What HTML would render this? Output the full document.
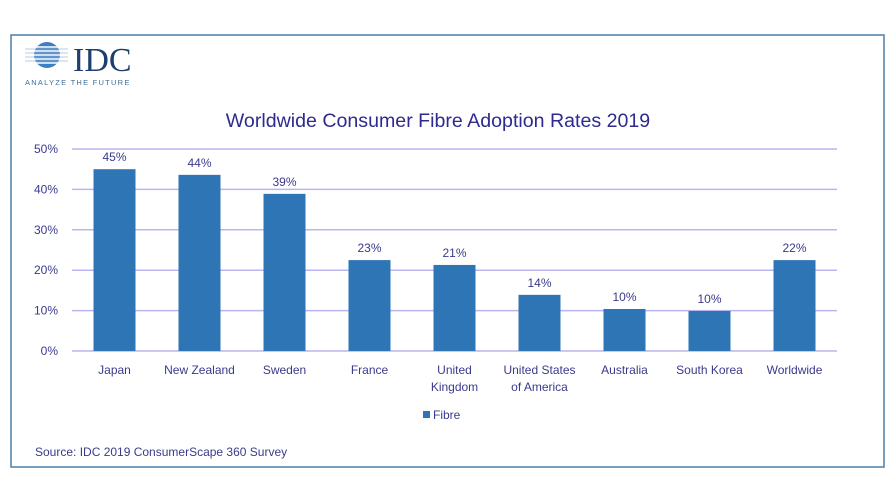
<!DOCTYPE html>
<html><head><meta charset="utf-8"><style>
html,body{margin:0;padding:0;background:#fff;}
svg{display:block;font-family:"Liberation Sans",sans-serif;}
</style></head><body>
<svg id="chart" width="896" height="504" viewBox="0 0 896 504">
<rect x="11" y="35" width="873" height="432" fill="#fff" stroke="#4a7fa8" stroke-width="1.5"/>
<g>
  <circle cx="47" cy="55" r="13" fill="#3d7fc0"/>
  <g stroke="#fff" stroke-width="1.6">
    <line x1="30" y1="47" x2="66" y2="47"/><line x1="30" y1="51" x2="66" y2="51"/><line x1="30" y1="55" x2="66" y2="55"/><line x1="30" y1="59" x2="66" y2="59"/><line x1="30" y1="63" x2="66" y2="63"/>
  </g>
  <g stroke="#9fbddc" stroke-width="0.8">
    <line x1="25" y1="49" x2="68" y2="49"/><line x1="25" y1="53" x2="68" y2="53"/><line x1="25" y1="57" x2="68" y2="57"/><line x1="25" y1="61" x2="68" y2="61"/>
  </g>
  <text x="73" y="71" font-family="Liberation Serif,serif" font-size="34" fill="#1d3f6e">IDC</text>
  <text x="25" y="85" font-size="7.5" fill="#3d6f9a" letter-spacing="1.25">ANALYZE THE FUTURE</text>
</g>
<text x="438" y="127" text-anchor="middle" font-size="19.6" fill="#2e2a8e">Worldwide Consumer Fibre Adoption Rates 2019</text>
<g id="grid"></g><g id="bars"></g><g id="xlabels"></g>
<g>
  <rect x="423" y="411" width="7" height="7" fill="#2e75b6"/>
  <text x="433" y="419" font-size="12" fill="#3a3a8c">Fibre</text>
</g>
<text x="35" y="456" font-size="12" fill="#3a3a8c">Source: IDC 2019 ConsumerScape 360 Survey</text>
</svg>
<script>
const categories=[["Japan"],["New Zealand"],["Sweden"],["France"],["United","Kingdom"],["United States","of America"],["Australia"],["South Korea"],["Worldwide"]];
const values=[45.0,43.6,38.9,22.5,21.3,13.9,10.4,9.9,22.5];
const valueLabels=["45%","44%","39%","23%","21%","14%","10%","10%","22%"];
const ticks=[0,10,20,30,40,50];
const tickLabels=["0%","10%","20%","30%","40%","50%"];
const NS="http://www.w3.org/2000/svg";
const x0=72,x1=837,y0=351,y50=149,band=(x1-x0)/categories.length,bw=42;
const y=v=>y0-(v/50)*(y0-y50);
const xc=i=>x0+band*(i+0.5);
function mk(tag,attrs,parent,txt){const e=document.createElementNS(NS,tag);for(const k in attrs)e.setAttribute(k,attrs[k]);if(txt!=null)e.textContent=txt;parent.appendChild(e);return e;}
const g=document.getElementById('grid'),b=document.getElementById('bars'),xl=document.getElementById('xlabels');
ticks.forEach((t,i)=>{
  const l=mk('line',{x1:x0,x2:x1,y1:y(t),y2:y(t),stroke:'#b9b5ee','stroke-width':1.5},g);
  
  
  const tx=mk('text',{x:58,y:y(t)+4,'text-anchor':'end','font-size':12,fill:'#3a3a8c'},g,tickLabels[i]);
  
  
});
values.forEach((v,i)=>{
  const r=mk('rect',{x:xc(i)-bw/2,y:y(v),width:bw,height:y0-y(v),fill:'#2e75b6'},b);
  
  
  const t=mk('text',{x:xc(i),y:y(v)-8,'text-anchor':'middle','font-size':12,fill:'#3a3a8c'},b,valueLabels[i]);
  
  
  categories[i].forEach((line,j)=>{
    const c=mk('text',{x:xc(i),y:374+j*17,'text-anchor':'middle','font-size':12,fill:'#3a3a8c'},xl,line);
    
    
  });
});
</script>
</body></html>
